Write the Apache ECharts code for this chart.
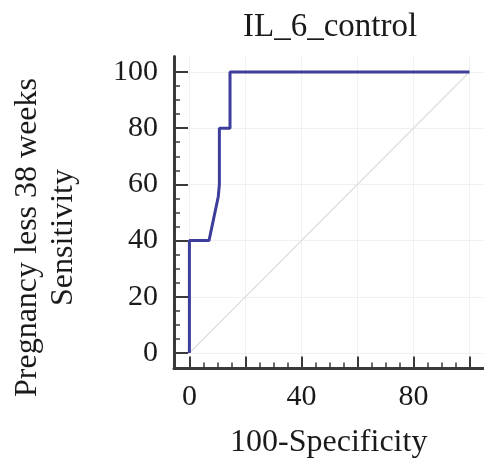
<!DOCTYPE html>
<html>
<head>
<meta charset="utf-8">
<script src="https://cdn.jsdelivr.net/npm/echarts@6/dist/echarts.min.js"></script>
<style>html,body{margin:0;padding:0;background:#fff;}#chart{width:484px;height:468px;}</style>
</head>
<body>
<div id="chart"></div>
<script>
const titleText = 'IL_6_control';
const xName = '100-Specificity';
const yName = 'Pregnancy less 38 weeks\nSensitivity';
const rocX = [0, 0, 7, 10.3, 10.7, 10.7, 14.5, 14.5, 100];
const rocY = [0, 40, 40, 55.6, 60, 80, 80, 100, 100];
const refX = [0, 100];
const refY = [0, 100];
const majorTicks = [0, 20, 40, 60, 80, 100];
const minorTicks = [5, 10, 15, 25, 30, 35, 45, 50, 55, 65, 70, 75, 85, 90, 95];
const xLabels = [0, 40, 80];
const yLabels = [0, 20, 40, 60, 80, 100];

const FONT = "'Liberation Serif', 'Times New Roman', serif";
const AXC = '#3a3a3a';
const chart = echarts.init(document.getElementById('chart'));
const xBase = { type: 'value', min: -5.5, max: 105, gridIndex: 0, position: 'bottom' };
const yBase = { type: 'value', min: -5.5, max: 105.5, gridIndex: 0, position: 'left' };
chart.setOption({
  animation: false,
  title: {
    text: titleText, left: 238, top: 6,
    textStyle: { fontFamily: FONT, fontSize: 33, fontWeight: 'normal', color: '#1a1a1a' }
  },
  grid: { left: 174, right: 0.5, top: 56.5, bottom: 99.5, containLabel: false },
  xAxis: [
    Object.assign({}, xBase, {
      name: xName, nameLocation: 'middle', nameGap: 58,
      nameTextStyle: { fontFamily: FONT, fontSize: 32, color: '#1a1a1a' },
      axisLine: { show: true, onZero: false, lineStyle: { color: AXC, width: 3 } },
      axisTick: { show: true, inside: true, length: 12, customValues: majorTicks, lineStyle: { color: AXC, width: 2 } },
      axisLabel: { customValues: xLabels, margin: 14, fontFamily: FONT, fontSize: 30, color: '#1a1a1a' },
      splitLine: { show: true, lineStyle: { color: '#f0f0f0', width: 1 } }
    }),
    Object.assign({}, xBase, {
      axisLine: { show: false, onZero: false },
      axisTick: { show: true, inside: true, length: 6, customValues: minorTicks, lineStyle: { color: AXC, width: 1.5 } },
      axisLabel: { show: false },
      splitLine: { show: false }
    })
  ],
  yAxis: [
    Object.assign({}, yBase, {
      name: yName, nameLocation: 'middle', nameGap: 92, nameRotate: 90,
      nameTextStyle: { fontFamily: FONT, fontSize: 32, lineHeight: 36, color: '#1a1a1a', padding: [0, 50, 0, 0] },
      axisLine: { show: true, onZero: false, lineStyle: { color: AXC, width: 3 } },
      axisTick: { show: true, inside: true, length: 14, customValues: majorTicks, lineStyle: { color: AXC, width: 2 } },
      axisLabel: { customValues: yLabels, margin: 16, fontFamily: FONT, fontSize: 30, color: '#1a1a1a' },
      splitLine: { show: true, lineStyle: { color: '#f0f0f0', width: 1 } }
    }),
    Object.assign({}, yBase, {
      axisLine: { show: false, onZero: false },
      axisTick: { show: true, inside: true, length: 6, customValues: minorTicks, lineStyle: { color: AXC, width: 1.5 } },
      axisLabel: { show: false },
      splitLine: { show: false }
    })
  ],
  series: [
    {
      type: 'line', xAxisIndex: 0, yAxisIndex: 0, silent: true, symbol: 'none',
      data: refX.map((x, i) => [x, refY[i]]),
      lineStyle: { color: '#dedede', width: 1.2 }
    },
    {
      type: 'line', xAxisIndex: 0, yAxisIndex: 0, symbol: 'none',
      data: rocX.map((x, i) => [x, rocY[i]]),
      lineStyle: { color: '#3d3d9c', width: 3 }
    }
  ]
});
</script>
</body>
</html>
